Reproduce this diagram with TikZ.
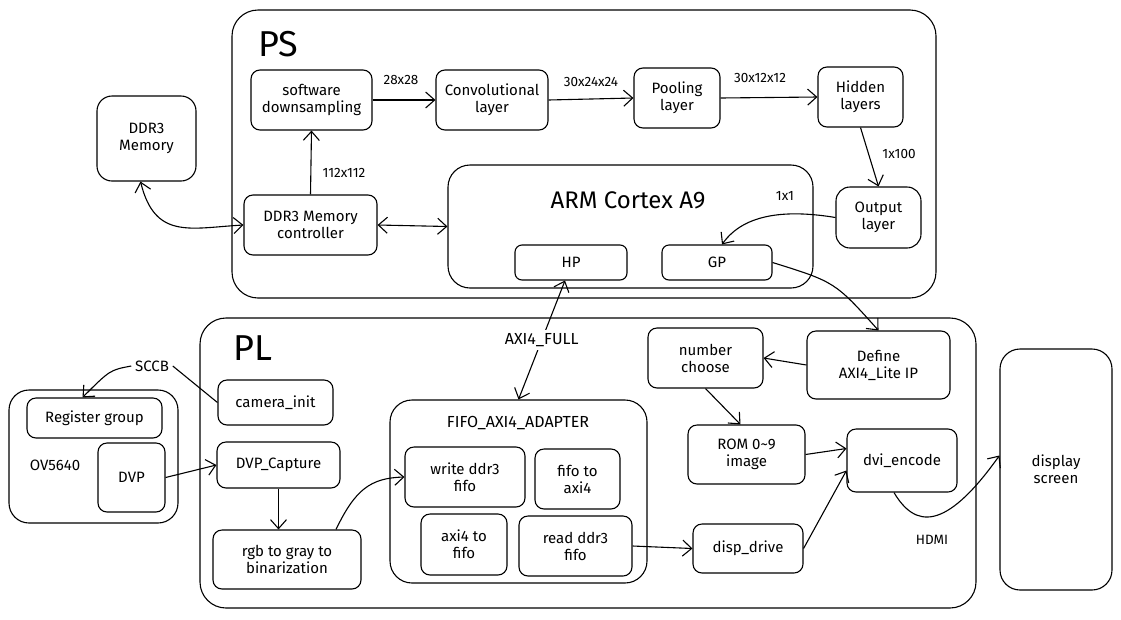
\documentclass[tikz,border=0pt]{standalone}
\usepackage{fontspec}
\setmainfont{Fira Sans}
\usetikzlibrary{arrows.meta}

\begin{document}
\begin{tikzpicture}[
x=1pt,y=-1pt,
line width=1.1pt,
>={Straight Barb[length=9pt,width=16pt]},
every node/.style={font=\fontsize{15}{17}\selectfont},
blk/.style={draw,rounded corners=9pt,align=center,inner sep=1pt},
frame/.style={draw,rounded corners=26pt,inner sep=0pt},
sz/.style 2 args={minimum width=#1,minimum height=#2},
lbl/.style={font=\fontsize{13.5}{15}\selectfont,inner sep=1pt},
big/.style={font=\fontsize{36}{40}\selectfont}
]
\useasboundingbox (0,0) rectangle (1121,619);

% frames
\node[frame,sz={704}{288}] (ps) at (584,154) {};
\node[frame,sz={776}{290}] (pl) at (588,463) {};
\node[big] (pstitle) at (278,44) {PS};
\node[big] (pltitle) at (253,348) {PL};
\node[frame,rounded corners=22pt,sz={365}{123}] (arm) at (630.5,226.5) {};
\node[font=\fontsize{24}{28}\selectfont] (armtitle) at (628,200) {ARM Cortex A9};
\node[frame,rounded corners=22pt,sz={257}{183}] (adapter) at (518.5,491.5) {};
\node[font=\fontsize{16}{18}\selectfont] (adtitle) at (518,423) {FIFO\_AXI4\_ADAPTER};
\node[frame,rounded corners=20pt,sz={169}{133}] (ov) at (93.5,456.5) {};
\node (ovtitle) at (55,465) {OV5640};

% PS blocks
\node[blk,sz={121}{60}] (sds) at (311.5,100) {software\\downsampling};
\node[blk,sz={112}{60}] (conv) at (492,100) {Convolutional\\layer};
\node[blk,sz={86}{60}] (pool) at (677,98) {Pooling\\layer};
\node[blk,sz={85}{60}] (hidden) at (860.5,97) {Hidden\\layers};
\node[blk,rounded corners=14pt,sz={85}{61}] (outl) at (878.5,217.5) {Output\\layer};
\node[blk,rounded corners=15pt,sz={99}{85}] (ddrmem) at (146.5,138.5) {DDR3\\Memory};
\node[blk,sz={133}{60}] (ddrctl) at (310.5,225) {DDR3 Memory\\controller};
\node[blk,rounded corners=7pt,sz={112}{35}] (hp) at (571,262.5) {HP};
\node[blk,rounded corners=7pt,sz={110}{35}] (gp) at (717,262.5) {GP};

% PL blocks
\node[blk,sz={115}{45}] (caminit) at (275.5,402.5) {camera\_init};
\node[blk,sz={123}{46}] (dvpcap) at (278.5,465) {DVP\_Capture};
\node[blk,sz={148}{59}] (rgb) at (287,559.5) {rgb to gray to\\binarization};
\node[blk,sz={120}{60}] (wfifo) at (465,477) {write ddr3\\fifo};
\node[blk,sz={85}{60}] (f2axi) at (577.5,479) {fifo to\\axi4};
\node[blk,sz={86}{61}] (a2fifo) at (464,544.5) {axi4 to\\fifo};
\node[blk,sz={113}{60}] (rfifo) at (575.5,546) {read ddr3\\fifo};
\node[blk,sz={115}{60}] (numch) at (705.5,358) {number\\choose};
\node[blk,sz={143}{68}] (defip) at (878.5,365) {Define\\AXI4\_Lite IP};
\node[blk,sz={117}{59}] (rom) at (746.5,454.5) {ROM 0\textasciitilde9\\image};
\node[blk,sz={110}{63}] (dvi) at (902,460.5) {dvi\_encode};
\node[blk,sz={110}{49}] (disp) at (748,548.5) {disp\_drive};
\node[blk,rounded corners=20pt,sz={112}{241}] (screen) at (1056,469.5) {display\\screen};
\node[blk,sz={135}{40}] (reg) at (94.5,418) {Register group};
\node[blk,sz={67}{69}] (dvp) at (131.5,477.5) {DVP};

% PS connectors
\draw[->] (sds) -- (conv);
\draw[->] (conv.east) -- (pool.west);
\draw[->] (pool.east) -- (hidden.west);
\draw[->] (hidden.south) -- (outl.north);
\draw[->] (outl.west) .. controls (790,210) and (745,212) .. ([xshift=5]gp.north);
\draw[->] (ddrctl.north) -- (sds.south);
\draw[<->] (ddrctl.east) -- (arm.west);
\draw[<->] ([xshift=-6]ddrmem.south) .. controls (155,240) and (190,228) .. (ddrctl.west);
\node[lbl] (l28) at (401,80) {28x28};
\node[lbl] (l3024) at (591,82) {30x24x24};
\node[lbl] (l3012) at (760,78) {30x12x12};
\node[lbl] (l112) at (344,173) {112x112};
\node[lbl] (l100) at (899,154) {1x100};
\node[lbl] (l1) at (785,196) {1x1};

% PS to PL
\draw[<->] ([xshift=-6]hp.south) -- node[fill=white,inner sep=3pt,font=\fontsize{16}{18}\selectfont]{AXI4\_FULL} (adapter.north);
\draw[->] (gp.east) .. controls (835,282) .. (defip.north);

% PL connectors
\node (sccb) at (152,366) {SCCB};
\draw (caminit.west) -- (sccb.east);
\draw[->] (sccb.west) .. controls (110,370) .. ([xshift=-12]reg.north);
\draw[->] (dvp.east) -- (dvpcap.west);
\draw[->] (dvpcap.south) -- (dvpcap.south |- rgb.north);
\draw[->] ([xshift=49]rgb.north) .. controls (355,490) and (370,478) .. (wfifo.west);
\draw[->] (rfifo.east) -- (disp.west);
\draw[->] (numch.south) -- ([xshift=-6]rom.north);
\draw[->] (defip.west) -- (numch.east);
\draw[->] (rom.east) -- ([yshift=12pt]dvi.west);
\draw[->] (disp.east) -- ([yshift=-10pt]dvi.west);
\draw[->] ([xshift=-8]dvi.south) .. controls (915,528) and (945,532) .. ([yshift=14pt]screen.west);
\node[lbl] (hdmi) at (932,540) {HDMI};
\end{tikzpicture}
\end{document}
